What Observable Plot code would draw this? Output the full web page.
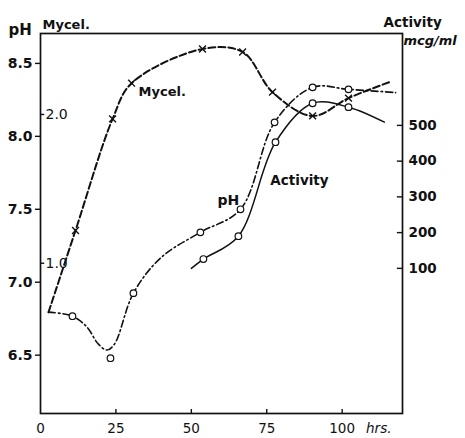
<!DOCTYPE html>
<html>
<head>
<meta charset="utf-8">
<script src="https://cdn.jsdelivr.net/npm/d3@7"></script>
<script src="https://cdn.jsdelivr.net/npm/@observablehq/plot@0.6"></script>
<style>
  html, body { margin: 0; padding: 0; background: #fff; }
  svg { display: block; }
</style>
</head>
<body>
<div id="chart"></div>
<script>
// ---- data ----
// x: hours; pH in pH units; mycelium in its own units; activity in mcg/ml
const xTicks = [0, 25, 50, 75, 100];
const phTicks = [6.5, 7.0, 7.5, 8.0, 8.5];
const mycelTicks = [1.0, 2.0];
const activityTicks = [100, 200, 300, 400, 500];

// Mycelium (dashed line, x markers; first & last are line ends only)
const mycelHrs = [2.65, 11.6, 23.9, 30.2, 53.7, 67.0, 76.9, 90.2, 102.1, 116];
const mycelVal = [0.67, 1.22, 1.97, 2.21, 2.44, 2.42, 2.15, 1.99, 2.11, 2.22];

// pH (dash-dot line drawn by hand; circles are the measurements)
const phLineHrs = [2.65, 10.6, 15.5, 19, 22, 24.5, 30.8, 40, 53.0, 66.3, 77.6, 90.2, 102.1, 117.7];
const phLineVal = [6.795, 6.767, 6.69, 6.58, 6.535, 6.575, 6.925, 7.17, 7.342, 7.50, 8.096, 8.336, 8.322, 8.30];
const phPtHrs = [10.6, 23.2, 30.8, 53.0, 66.3, 77.6, 90.2, 102.1];
const phPtVal = [6.767, 6.479, 6.925, 7.342, 7.50, 8.096, 8.336, 8.322];

// Activity (solid line, circles; first & last are line ends only)
const actHrs = [50.0, 54.0, 65.6, 77.9, 90.2, 102.1, 114];
const actVal = [100, 126, 190, 453, 562, 551, 509];

// ---- secondary axes expressed on the pH scale ----
const mycelToPH = m => 6.11 + 1.02 * m;
const actToPH = a => 6.85 + 0.00245 * a;
const phToAct = p => Math.round((p - 6.85) / 0.00245);

const idx = n => d3.range(n);
const mid = n => d3.range(1, n - 1);

const font = "DejaVu Sans";

const chart = Plot.plot({
  width: 465,
  height: 438,
  marginLeft: 40,
  marginRight: 63,
  marginTop: 33,
  marginBottom: 25,
  style: { fontFamily: font, fontSize: "13px", background: "white", color: "#111" },
  x: { domain: [0, 120] },
  y: { domain: [6.10, 8.705] },
  marks: [
    Plot.frame({ stroke: "#111", strokeWidth: 1.7 }),
    // left pH axis (outward ticks)
    Plot.axisY(phTicks, { anchor: "left", tickSize: 5, tickPadding: 3, strokeWidth: 1.4,
      tickFormat: d => d.toFixed(1), fontSize: 14, fontWeight: "bold" }),
    // inner Mycel. axis
    Plot.ruleY(mycelTicks.map(mycelToPH), { x1: 0, x2: 1.4, strokeWidth: 1.4 }),
    Plot.text(mycelTicks, { y: mycelTicks.map(mycelToPH), frameAnchor: "left", dx: 5,
      textAnchor: "start", text: d => d.toFixed(1), fontSize: 14 }),
    // right Activity axis (inward ticks)
    Plot.ruleY(activityTicks.map(actToPH), { x1: 120 - 1.7, x2: 120, strokeWidth: 1.4 }),
    Plot.axisY(activityTicks.map(actToPH), { anchor: "right", tickSize: 0, tickPadding: 6,
      tickFormat: d => String(phToAct(d)), fontSize: 13.5, fontWeight: "bold" }),
    // bottom axis (inward ticks)
    Plot.ruleX(xTicks.slice(1), { y1: 6.10, y2: 6.10 + 4 / 146, strokeWidth: 1.4 }),
    Plot.axisX(xTicks, { anchor: "bottom", tickSize: 0, tickPadding: 10, fontSize: 13.5 }),
    Plot.text(["hrs."], { frameAnchor: "bottom-right", dx: -11, dy: 10, lineAnchor: "top",
      fontStyle: "italic", fontSize: 13.5 }),
    // axis headers
    Plot.text(["pH"], { frameAnchor: "top-left", dx: -32, dy: 1, textAnchor: "start",
      lineAnchor: "bottom", fontSize: 15, fontWeight: "bold" }),
    Plot.text(["Mycel."], { frameAnchor: "top-left", dx: 2, dy: -5, textAnchor: "start",
      lineAnchor: "bottom", fontSize: 13, fontWeight: "bold" }),
    Plot.text(["Activity"], { frameAnchor: "top-right", dx: -19, dy: -7, textAnchor: "start",
      lineAnchor: "bottom", fontSize: 13.5, fontWeight: "bold" }),
    Plot.text(["mcg/ml"], { frameAnchor: "top-right", dx: 1, dy: 11, textAnchor: "start",
      lineAnchor: "bottom", fontSize: 13, fontWeight: "bold", fontStyle: "italic" }),
    // curves
    Plot.line(idx(mycelHrs.length), { x: mycelHrs, y: mycelVal.map(mycelToPH),
      curve: "catmull-rom", stroke: "#111", strokeWidth: 2, strokeDasharray: "7,3" }),
    Plot.line(idx(phLineHrs.length), { x: phLineHrs, y: phLineVal,
      curve: "catmull-rom", stroke: "#111", strokeWidth: 1.6, strokeDasharray: "7,3,1.6,3" }),
    Plot.line(idx(actHrs.length), { x: actHrs, y: actVal.map(actToPH),
      curve: "catmull-rom", stroke: "#111", strokeWidth: 1.5 }),
    // markers
    Plot.dot(mid(mycelHrs.length), { x: i => mycelHrs[i], y: i => mycelToPH(mycelVal[i]),
      symbol: "times", r: 3.2, stroke: "#111", strokeWidth: 1.4 }),
    Plot.dot(idx(phPtHrs.length), { x: phPtHrs, y: phPtVal,
      r: 3.3, fill: "white", stroke: "#111", strokeWidth: 1.2 }),
    Plot.dot(mid(actHrs.length), { x: i => actHrs[i], y: i => actToPH(actVal[i]),
      r: 3.3, fill: "white", stroke: "#111", strokeWidth: 1.2 }),
    // curve labels
    Plot.text(["Mycel."], { x: [32.5], y: [8.274], textAnchor: "start", lineAnchor: "bottom",
      fontSize: 13, fontWeight: "bold" }),
    Plot.text(["pH"], { x: [58.7], y: [7.527], textAnchor: "start", lineAnchor: "bottom",
      fontSize: 14, fontWeight: "bold" }),
    Plot.text(["Activity"], { x: [76.2], y: [7.664], textAnchor: "start", lineAnchor: "bottom",
      fontSize: 13.5, fontWeight: "bold" })
  ]
});
document.getElementById("chart").append(chart);
</script>
</body>
</html>
